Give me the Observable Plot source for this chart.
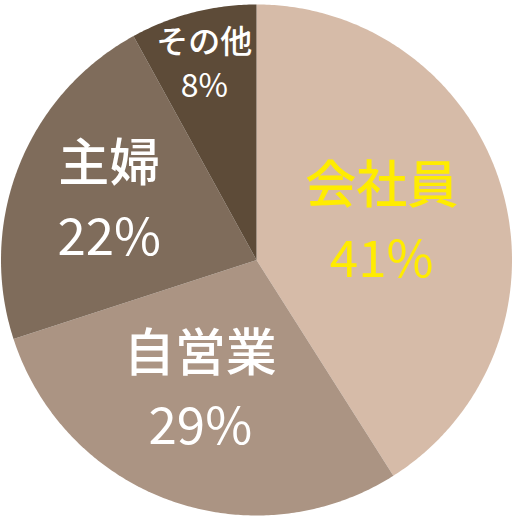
<!DOCTYPE html>
<html>
<head>
<meta charset="utf-8">
<script src="https://cdn.jsdelivr.net/npm/d3@7"></script>
<script src="https://cdn.jsdelivr.net/npm/@observablehq/plot@0.6"></script>
<style>
  html, body { margin: 0; padding: 0; background: #fff; }
  svg { display: block; }
</style>
</head>
<body>
<div id="chart"></div>
<script>
const categories = ["会社員", "自営業", "主婦", "その他"];
const values = [41, 29, 22, 8];
const colors = ["#d6bba8", "#ab9483", "#7f6c5b", "#5d4b38"];
const labelColors = ["#ffec00", "#ffffff", "#ffffff", "#ffffff"];

// layout: label distance from centre (fraction of radius), nudges, font sizes
const labelRadius = [0.51, 0.545, 0.62, 0.79];
const labelNudgeX = [0, -9, 0, -2];
const labelSize = [51, 51, 51, 32];

const W = 512, H = 521;
const cx = 256, cy = 259.5, R = 255.5;

const arcs = d3.pie().sort(null).value(d => d)(values);

const slicePts = [];
arcs.forEach((a, i) => {
  slicePts.push({cat: categories[i], x: cx, y: cy});
  const n = Math.max(8, Math.ceil((a.endAngle - a.startAngle) / 0.01));
  for (let k = 0; k <= n; k++) {
    const t = a.startAngle + (a.endAngle - a.startAngle) * k / n;
    slicePts.push({cat: categories[i], x: cx + R * Math.sin(t), y: cy - R * Math.cos(t)});
  }
  slicePts.push({cat: categories[i], x: cx, y: cy});
});

const labels = arcs.map((a, i) => {
  const mid = (a.startAngle + a.endAngle) / 2;
  const rr = labelRadius[i] * R;
  return {
    name: categories[i],
    pct: values[i] + "%",
    x: cx + rr * Math.sin(mid) + labelNudgeX[i],
    y: cy - rr * Math.cos(mid),
    size: labelSize[i],
    color: labelColors[i]
  };
});

const font = "'Noto Sans CJK JP', 'Noto Sans', sans-serif";

const marks = [
  Plot.line(slicePts, {x: "x", y: "y", z: "cat", fill: "cat", stroke: null, curve: "linear"})
];
labels.forEach(d => {
  const gap = d.size * (d.size > 40 ? 0.72 : 0.69);
  marks.push(Plot.text([d], {
    x: "x", y: "y", text: "name", fill: d.color, dy: -gap,
    fontSize: d.size, fontWeight: 500, lineAnchor: "middle", textAnchor: "middle", fontFamily: font
  }));
  marks.push(Plot.text([d], {
    x: "x", y: "y", text: "pct", fill: d.color, dy: gap,
    fontSize: d.size, fontWeight: 400, lineAnchor: "middle", textAnchor: "middle", fontFamily: font
  }));
});

const chart = Plot.plot({
  width: W,
  height: H,
  margin: 0,
  x: {domain: [0, W], range: [0, W], axis: null},
  y: {domain: [0, H], range: [0, H], axis: null},
  color: {domain: categories, range: colors},
  style: {fontFamily: font, background: "#fff"},
  marks
});
document.getElementById("chart").appendChild(chart);
</script>
</body>
</html>
